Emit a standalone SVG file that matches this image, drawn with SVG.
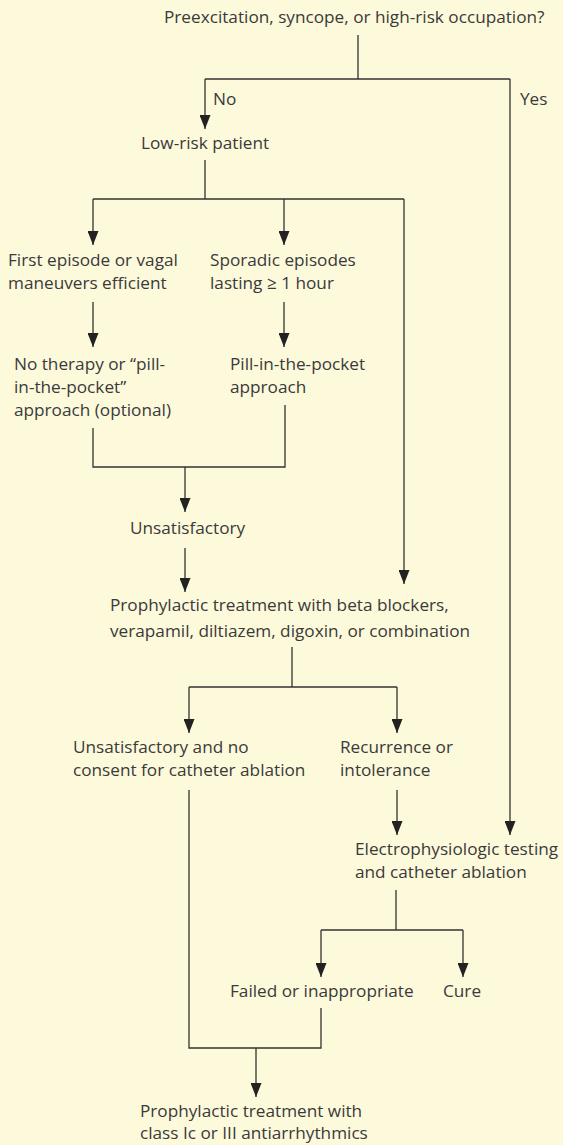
<svg xmlns="http://www.w3.org/2000/svg" width="563" height="1145" viewBox="0 0 563 1145">
<style>
text{font-family:"Open Sans","Noto Sans","DejaVu Sans",sans-serif;font-size:17.2px;fill:#3a3a3a}
.c{fill:none;stroke:#333;stroke-width:1.3}
.a{marker-end:url(#ah)}
</style>
<defs>
<marker id="ah" markerUnits="userSpaceOnUse" markerWidth="14" markerHeight="11" refX="14" refY="5.5" orient="auto" viewBox="0 0 14 11">
<path d="M0,0 L14,5.5 L0,11 z" fill="#222"/>
</marker>
</defs>
<rect width="563" height="1145" fill="#fdf9db"/>
<g id="connectors">
<path class="c" d="M358,35 V79 M205,79 H510"/>
<path class="c a" d="M205,79 V129"/>
<path class="c a" d="M510,79 V835"/>
<path class="c" d="M205,160 V199 M93,199 H404"/>
<path class="c a" d="M93,199 V245"/>
<path class="c a" d="M284,199 V245"/>
<path class="c a" d="M404,199 V584"/>
<path class="c a" d="M93,302 V347"/>
<path class="c a" d="M284,302 V347"/>
<path class="c" d="M93,428 V467 H285 V405"/>
<path class="c a" d="M185,467 V512"/>
<path class="c a" d="M185,548 V592"/>
<path class="c" d="M292,647 V687 M189,687 H397"/>
<path class="c a" d="M189,687 V733"/>
<path class="c a" d="M397,687 V733"/>
<path class="c a" d="M397,790 V835"/>
<path class="c" d="M396,890 V930 M321,930 H463"/>
<path class="c a" d="M321,930 V977"/>
<path class="c a" d="M463,930 V977"/>
<path class="c" d="M189,790 V1048 H321 V1008"/>
<path class="c a" d="M256,1048 V1097"/>
</g>
<g id="n-question"><text x="164" y="23">Preexcitation, syncope, or high-risk occupation?</text></g>
<g id="l-no"><text x="213" y="105">No</text></g>
<g id="l-yes"><text x="520" y="105">Yes</text></g>
<g id="n-lowrisk"><text x="141" y="149">Low-risk patient</text></g>
<g id="n-first"><text x="8" y="266">First episode or vagal</text><text x="8" y="289">maneuvers efficient</text></g>
<g id="n-sporadic"><text x="210" y="266">Sporadic episodes</text><text x="210" y="289">lasting ≥ 1 hour</text></g>
<g id="n-notherapy"><text x="14" y="370">No therapy or “pill-</text><text x="14" y="393">in-the-pocket”</text><text x="14" y="416">approach (optional)</text></g>
<g id="n-pill"><text x="230" y="370">Pill-in-the-pocket</text><text x="230" y="393">approach</text></g>
<g id="n-unsat"><text x="130" y="534">Unsatisfactory</text></g>
<g id="n-prophy1"><text x="110" y="611">Prophylactic treatment with beta blockers,</text><text x="110" y="637">verapamil, diltiazem, digoxin, or combination</text></g>
<g id="n-unsatno"><text x="73" y="753">Unsatisfactory and no</text><text x="73" y="776">consent for catheter ablation</text></g>
<g id="n-recur"><text x="340" y="753">Recurrence or</text><text x="340" y="776">intolerance</text></g>
<g id="n-ep"><text x="355" y="855">Electrophysiologic testing</text><text x="355" y="878">and catheter ablation</text></g>
<g id="n-failed"><text x="230" y="997">Failed or inappropriate</text></g>
<g id="n-cure"><text x="443" y="997">Cure</text></g>
<g id="n-prophy2"><text x="140" y="1117">Prophylactic treatment with</text><text x="140" y="1139">class Ic or III antiarrhythmics</text></g>
</svg>
